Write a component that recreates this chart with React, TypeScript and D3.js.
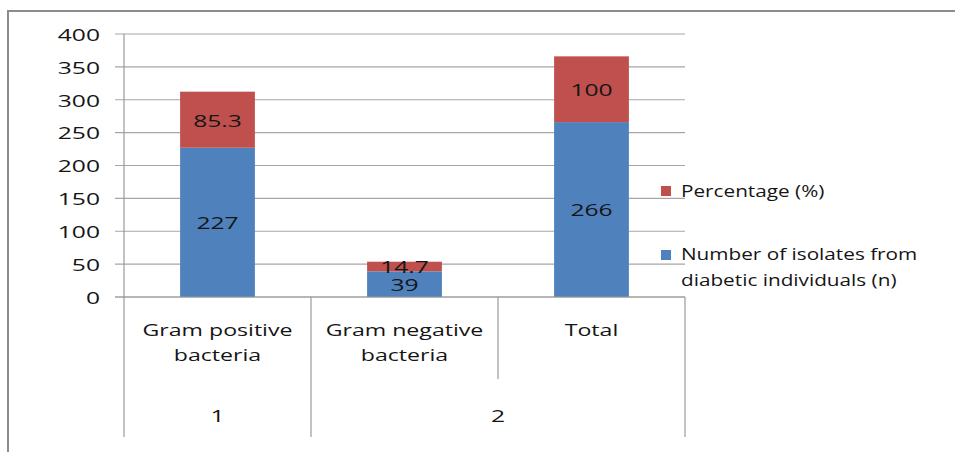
import React from "react";
import * as d3 from "d3";

const categories = ["Gram positive bacteria", "Gram negative bacteria", "Total"];
const categoryLines = [["Gram positive", "bacteria"], ["Gram negative", "bacteria"], ["Total"]];
const groupLabels = ["1", "2"];
const groupStart = [0, 1];
const groupEnd = [0, 2];
const countValues = [227, 39, 266];
const percentValues = [85.3, 14.7, 100];
const countLabels = ["227", "39", "266"];
const percentLabels = ["85.3", "14.7", "100"];
const yTicks = [0, 50, 100, 150, 200, 250, 300, 350, 400];
const legendNames = ["Percentage (%)", "Number of isolates from diabetic individuals (n)"];

const BLUE = "#4F81BD";
const RED = "#C0504D";
const FONT = "Open Sans, sans-serif";
const FS = 17;

function T({ x, y, children, anchor = "middle", sx = 1.22 }: any) {
  return (
    <text
      transform={`translate(${x},${y}) scale(${sx},1)`}
      textAnchor={anchor}
      dominantBaseline="central"
      fontFamily={FONT}
      fontSize={FS}
      fill="#151515"
    >
      {children}
    </text>
  );
}

export default function App() {
  const left = 124, right = 685, top = 34, bottom = 297;
  const x = d3.scaleBand<string>().domain(categories).range([left, right]).paddingInner(0.6).paddingOuter(0.3);
  const y = d3.scaleLinear().domain([0, 400]).range([bottom, top]);
  const step = x.step();
  const boundary = (i: number) => left + i * step;
  const NUM = 1.45;
  const CAT = 1.36;

  return (
    <svg width={955} height={452} style={{ position: "absolute", left: 0, top: 0, background: "#fff" }}>
      <rect x={0} y={0} width={955} height={452} fill="#fff" />
      {/* outer frame */}
      <rect x={8} y={11} width={1000} height={1000} fill="none" stroke="#8c8c8c" strokeWidth={2} />
      {/* gridlines */}
      {yTicks.map((t) => (
        <line key={t} x1={left - 9} x2={right} y1={y(t)} y2={y(t)} stroke="#a6a6a6" strokeWidth={1.2} />
      ))}
      {yTicks.map((t) => (
        <T key={"l" + t} x={100} y={y(t)} anchor="end" sx={NUM}>{t}</T>
      ))}
      {/* y axis */}
      <line x1={left} x2={left} y1={top} y2={bottom} stroke="#9a9a9a" strokeWidth={1.2} />
      {/* bars */}
      {categories.map((c, i) => {
        const bx = x(c)!;
        const bw = x.bandwidth();
        const y0 = y(0), y1 = y(countValues[i]), y2 = y(countValues[i] + percentValues[i]);
        return (
          <g key={c}>
            <rect x={bx} y={y1} width={bw} height={y0 - y1} fill={BLUE} />
            <rect x={bx} y={y2} width={bw} height={y1 - y2} fill={RED} />
            <T x={bx + bw / 2} y={(y0 + y1) / 2} sx={NUM}>{countLabels[i]}</T>
            <T x={bx + bw / 2} y={(y1 + y2) / 2} sx={NUM}>{percentLabels[i]}</T>
          </g>
        );
      })}
      {/* x axis */}
      <line x1={left - 9} x2={right} y1={bottom} y2={bottom} stroke="#9a9a9a" strokeWidth={1.2} />
      {/* category dividers */}
      {d3.range(categories.length + 1).map((i) => {
        const isGroupEdge = i === 0 || i === categories.length || groupStart.includes(i);
        return (
          <line key={"d" + i} x1={boundary(i)} x2={boundary(i)} y1={bottom} y2={isGroupEdge ? 437 : 379} stroke="#9a9a9a" strokeWidth={1.2} />
        );
      })}
      {categoryLines.map((lines, i) =>
        lines.map((ln, j) => (
          <T key={"c" + i + j} x={x(categories[i])! + x.bandwidth() / 2} y={329 + j * 25} sx={CAT}>{ln}</T>
        ))
      )}
      {groupLabels.map((g, i) => (
        <T key={"g" + i} x={(boundary(groupStart[i]) + boundary(groupEnd[i] + 1)) / 2} y={415} sx={NUM}>{g}</T>
      ))}
      {/* legend */}
      <rect x={661} y={186} width={10} height={10} fill={RED} />
      <T x={681} y={191} anchor="start">{legendNames[0]}</T>
      <rect x={661} y={250} width={10} height={10} fill={BLUE} />
      <T x={681} y={254} anchor="start">Number of isolates from</T>
      <T x={681} y={280} anchor="start">diabetic individuals (n)</T>
    </svg>
  );
}
